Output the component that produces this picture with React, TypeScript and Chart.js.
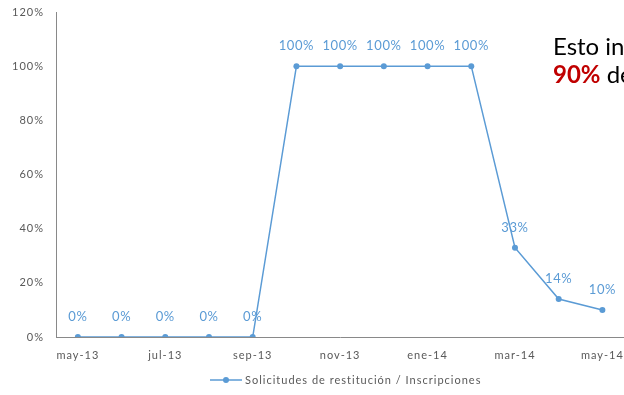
import React, { useEffect, useRef } from "react";
import { Chart, registerables } from "chart.js";

Chart.register(...registerables);

const months = [
  "may-13", "jun-13", "jul-13", "ago-13", "sep-13", "oct-13", "nov-13",
  "dic-13", "ene-14", "feb-14", "mar-14", "abr-14", "may-14",
];
const ratio = [0, 0, 0, 0, 0, 100, 100, 100, 100, 100, 33, 14, 10];
const seriesName = "Solicitudes de restitución / Inscripciones";
const yMin = 0;
const yMax = 120;
const yStep = 20;

const BLUE = "#5B9BD5";
const GRAY_TEXT = "#595959";
const AXIS = "#898989";
const FONT = "Lato, 'Open Sans', sans-serif";

const spacingPlugin = {
  id: "spacing",
  beforeInit(chart: any) {
    chart.ctx.letterSpacing = "1px";
  },
  beforeLayout(chart: any) {
    chart.ctx.letterSpacing = "1px";
  },
  beforeDraw(chart: any) {
    chart.ctx.letterSpacing = "1px";
  },
};

const dataLabelPlugin = {
  id: "dataLabels",
  afterDatasetsDraw(chart: any) {
    const ctx = chart.ctx;
    const meta = chart.getDatasetMeta(0);
    const ds = chart.data.datasets[0];
    ctx.save();
    ctx.letterSpacing = "0.6px";
    ctx.font = `13px ${FONT}`;
    ctx.fillStyle = BLUE;
    ctx.textAlign = "center";
    ctx.textBaseline = "middle";
    meta.data.forEach((pt: any, i: number) => {
      ctx.fillText(`${ds.data[i]}%`, pt.x, pt.y - 20);
    });
    ctx.restore();
  },
};

const legendPlugin = {
  id: "customLegend",
  afterDraw(chart: any) {
    const ctx = chart.ctx;
    ctx.save();
    ctx.letterSpacing = "1px";
    ctx.font = `11px ${FONT}`;
    const x0 = 210;
    const y = 380;
    ctx.strokeStyle = BLUE;
    ctx.lineWidth = 1.5;
    ctx.beginPath();
    ctx.moveTo(x0, y);
    ctx.lineTo(x0 + 32, y);
    ctx.stroke();
    ctx.fillStyle = BLUE;
    ctx.beginPath();
    ctx.arc(x0 + 16, y, 3, 0, Math.PI * 2);
    ctx.fill();
    ctx.fillStyle = GRAY_TEXT;
    ctx.textAlign = "left";
    ctx.textBaseline = "middle";
    ctx.fillText(seriesName, x0 + 35, y);
    ctx.restore();
  },
};

export default function App() {
  const ref = useRef<HTMLCanvasElement>(null);

  useEffect(() => {
    if (!ref.current) return;
    const chart = new Chart(ref.current, {
      type: "line",
      data: {
        labels: months,
        datasets: [
          {
            label: seriesName,
            data: ratio,
            borderColor: BLUE,
            backgroundColor: BLUE,
            borderWidth: 1.5,
            pointRadius: 3,
            pointBackgroundColor: BLUE,
            pointBorderWidth: 0,
            tension: 0,
          },
        ],
      },
      options: {
        animation: false,
        responsive: true,
        maintainAspectRatio: false,
        layout: { padding: { top: 12, left: 0, right: 0, bottom: 0 } },
        plugins: {
          legend: { display: false },
          tooltip: { enabled: false },
        },
        scales: {
          x: {
            offset: true,
            grid: { display: false, drawTicks: false },
            border: { display: true, color: AXIS, width: 1 },
            ticks: {
              autoSkip: false,
              maxRotation: 0,
              padding: 12,
              color: GRAY_TEXT,
              font: { family: FONT, size: 11 },
              callback: (_v: any, i: number) => (i % 2 === 0 ? months[i] : ""),
            },
            afterFit: (s: any) => {
              s.height = 58;
            },
          },
          y: {
            min: yMin,
            max: yMax,
            grid: {
              display: true,
              drawOnChartArea: false,
              drawTicks: true,
              tickLength: 12,
              color: "rgba(0,0,0,0)",
            },
            border: { display: true, color: AXIS, width: 1 },
            ticks: {
              stepSize: yStep,
              padding: 0,
              color: GRAY_TEXT,
              font: { family: FONT, size: 11 },
              callback: (v: any) => `${v}%`,
            },
            afterFit: (s: any) => {
              s.width = 56;
            },
          },
        },
      },
      plugins: [spacingPlugin, dataLabelPlugin, legendPlugin],
    });
    return () => chart.destroy();
  }, []);

  return (
    <div
      style={{
        position: "fixed",
        left: 0,
        top: 0,
        width: 624,
        height: 395,
        overflow: "hidden",
        background: "#fff",
      }}
    >
      <div style={{ position: "absolute", left: 0, top: 0, width: 636, height: 395 }}>
        <canvas ref={ref} />
      </div>
      <div
        style={{
          position: "absolute",
          left: 553,
          top: 34,
          fontFamily: FONT,
          fontSize: 24,
          lineHeight: "24px",
          whiteSpace: "nowrap",
          color: "#000",
        }}
      >
        Esto indica que el
      </div>
      <div
        style={{
          position: "absolute",
          left: 553,
          top: 62,
          fontFamily: FONT,
          fontSize: 24,
          lineHeight: "24px",
          whiteSpace: "nowrap",
          color: "#000",
        }}
      >
        <span style={{ color: "#C00000", fontWeight: "bold" }}>90%</span> de
      </div>
    </div>
  );
}
